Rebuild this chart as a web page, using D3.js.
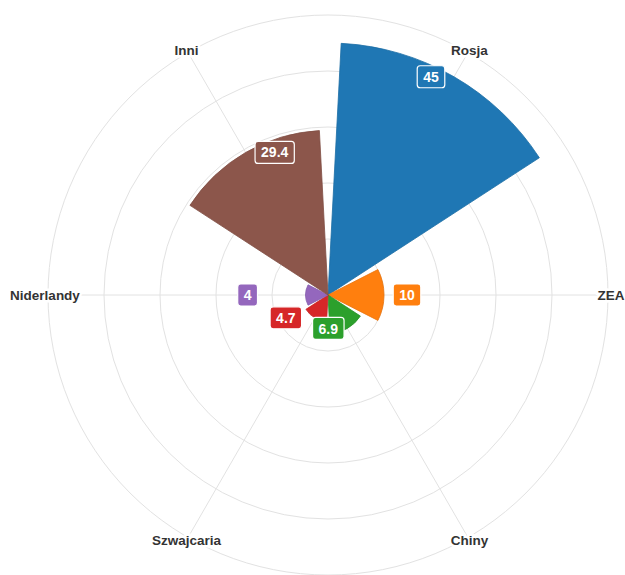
<!DOCTYPE html>
<html lang="pl">
<head>
<meta charset="utf-8">
<title>Polar area chart</title>
<script src="https://d3js.org/d3.v7.min.js"></script>
<style>
  body { margin: 0; background: #fff; }
  text { font-family: "Liberation Sans", Arial, Helvetica, sans-serif; }
</style>
</head>
<body>
<svg id="chart" width="625" height="575"></svg>
<script>
// data
var categories = ["Rosja", "ZEA", "Chiny", "Szwajcaria", "Niderlandy", "Inni"];
var values = [45, 10, 6.9, 4.7, 4, 29.4];
var radialTicks = [10, 20, 30, 40, 50];

var colors = ["#1f77b4", "#ff7f0e", "#2ca02c", "#d62728", "#9467bd", "#8c564b"];
// horizontal nudge of value boxes (px), so they do not overlap
var labelShift = [-23, 23, -19, -29, -58, 29];

var svg = d3.select("#chart");
var cx = 328, cy = 295;
var g = svg.append("g").attr("transform", "translate(" + cx + "," + cy + ")");

var rScale = d3.scaleLinear().domain([0, 50]).range([0, 280]);
var step = 360 / categories.length;
var pad = 3; // degrees of gap on each side of a sector
var rad = Math.PI / 180;

function angleOf(i) { return i * step + step / 2; } // degrees from north, clockwise

// grid circles
g.selectAll("circle.grid")
  .data(radialTicks)
  .enter()
  .append("circle")
  .attr("class", "grid")
  .attr("r", function(d) { return rScale(d); })
  .attr("fill", "none")
  .attr("stroke", "#e2e2e2")
  .attr("stroke-width", 1);

// spokes
g.selectAll("line.spoke")
  .data(categories)
  .enter()
  .append("line")
  .attr("class", "spoke")
  .attr("x1", 0).attr("y1", 0)
  .attr("x2", function(d, i) { return rScale(50) * Math.sin(angleOf(i) * rad); })
  .attr("y2", function(d, i) { return -rScale(50) * Math.cos(angleOf(i) * rad); })
  .attr("stroke", "#e2e2e2")
  .attr("stroke-width", 1);

// sectors
var arc = d3.arc()
  .innerRadius(0)
  .outerRadius(function(d) { return rScale(d.v); })
  .startAngle(function(d) { return (d.i * step + pad) * rad; })
  .endAngle(function(d) { return ((d.i + 1) * step - pad) * rad; });

var slices = values.map(function(v, i) { return { v: v, i: i }; });

g.selectAll("path.sector")
  .data(slices)
  .enter()
  .append("path")
  .attr("class", "sector")
  .attr("d", arc)
  .attr("fill", function(d) { return colors[d.i]; })
  .attr("stroke", function(d) { return d3.color(colors[d.i]).darker(0.25); })
  .attr("stroke-width", 0.8);

// category labels
var labelR = 283;
g.selectAll("text.cat")
  .data(categories)
  .enter()
  .append("text")
  .attr("class", "cat")
  .attr("x", function(d, i) { return labelR * Math.sin(angleOf(i) * rad); })
  .attr("y", function(d, i) { return -labelR * Math.cos(angleOf(i) * rad); })
  .attr("dy", "0.35em")
  .attr("text-anchor", "middle")
  .attr("font-size", "13.5px")
  .attr("font-weight", "bold")
  .attr("fill", "#333")
  .attr("stroke", "#fff")
  .attr("stroke-width", 5)
  .attr("paint-order", "stroke")
  .text(function(d) { return d; });

// value boxes
var boxes = g.selectAll("g.vlabel")
  .data(slices)
  .enter()
  .append("g")
  .attr("class", "vlabel")
  .attr("transform", function(d) {
    var a = angleOf(d.i) * rad;
    var r = rScale(d.v);
    var x = r * Math.sin(a) + labelShift[d.i];
    var y = -r * Math.cos(a);
    return "translate(" + x + "," + y + ")";
  });

boxes.append("rect");
boxes.append("text")
  .attr("text-anchor", "middle")
  .attr("dy", "0.36em")
  .attr("font-size", "14px")
  .attr("font-weight", "bold")
  .attr("fill", "#fff")
  .text(function(d) { return d.v; });

boxes.each(function(d) {
  var node = d3.select(this);
  var w = node.select("text").node().getComputedTextLength() + 12;
  node.select("rect")
    .attr("x", -w / 2)
    .attr("y", -11)
    .attr("width", w)
    .attr("height", 22)
    .attr("rx", 3)
    .attr("fill", colors[d.i])
    .attr("stroke", "#fff")
    .attr("stroke-width", 1.2);
});
</script>
</body>
</html>
